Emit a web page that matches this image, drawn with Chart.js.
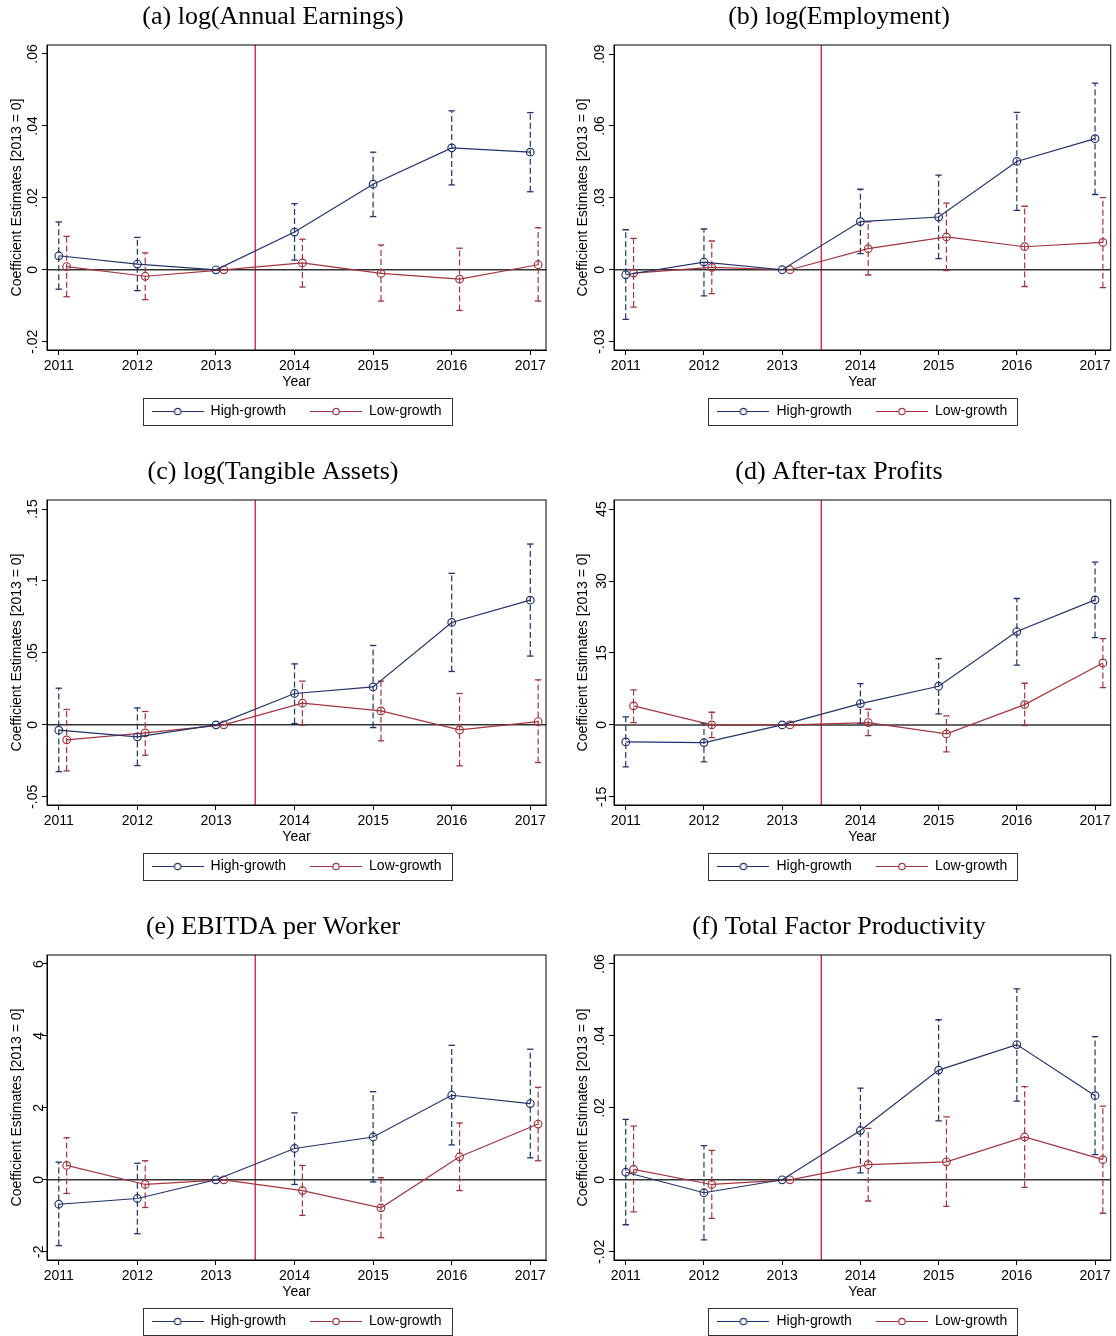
<!DOCTYPE html>
<html lang="en">
<head>
<meta charset="UTF-8">
<title>Event-study coefficients: high-growth vs. low-growth firms</title>
<script src="https://cdn.jsdelivr.net/npm/chart.js@4.4.1/dist/chart.umd.min.js"></script>
<style>
    html, body { margin: 0; padding: 0; background: #fff; overflow: hidden; }
    .panel { position: absolute; width: 558px; height: 455px; }
    canvas { display: block; }
</style>
</head>
<body>
<div class="panel" style="left:0;top:0"><canvas id="c0" width="558" height="455"></canvas></div>
<div class="panel" style="left:558px;top:0"><canvas id="c1" width="558" height="455"></canvas></div>
<div class="panel" style="left:0;top:455px"><canvas id="c2" width="558" height="455"></canvas></div>
<div class="panel" style="left:558px;top:455px"><canvas id="c3" width="558" height="455"></canvas></div>
<div class="panel" style="left:0;top:910px"><canvas id="c4" width="558" height="455"></canvas></div>
<div class="panel" style="left:558px;top:910px"><canvas id="c5" width="558" height="455"></canvas></div>

<script>
// years on the x axis
var years = [2011, 2012, 2013, 2014, 2015, 2016, 2017];

// (a) log(Annual Earnings)
var earnHigh   = [0.0039, 0.0016, 0, 0.0105, 0.0238, 0.0339, 0.0327];
var earnHighLo = [-0.0054, -0.0058, null, 0.0027, 0.0148, 0.0236, 0.0217];
var earnHighHi = [0.0133, 0.0090, null, 0.0184, 0.0327, 0.0442, 0.0437];
var earnLow    = [0.0009, -0.0018, 0, 0.0019, -0.0010, -0.0026, 0.0014];
var earnLowLo  = [-0.0075, -0.0083, null, -0.0048, -0.0087, -0.0113, -0.0087];
var earnLowHi  = [0.0093, 0.0047, null, 0.0085, 0.0069, 0.0060, 0.0117];
var earnTicks  = [-0.02, 0, 0.02, 0.04, 0.06];
var earnLabels = ['-.02', '0', '.02', '.04', '.06'];

// (b) log(Employment)
var empHigh   = [-0.0021, 0.0032, 0, 0.0201, 0.0220, 0.0452, 0.0547];
var empHighLo = [-0.0207, -0.0109, null, 0.0067, 0.0046, 0.0248, 0.0314];
var empHighHi = [0.0167, 0.0170, null, 0.0336, 0.0395, 0.0657, 0.0779];
var empLow    = [-0.0014, 0.0010, 0, 0.0088, 0.0137, 0.0096, 0.0114];
var empLowLo  = [-0.0156, -0.0100, null, -0.0022, -0.0004, -0.0070, -0.0075];
var empLowHi  = [0.0131, 0.0120, null, 0.0200, 0.0278, 0.0265, 0.0301];
var empTicks  = [-0.03, 0, 0.03, 0.06, 0.09];
var empLabels = ['-.03', '0', '.03', '.06', '.09'];

// (c) log(Tangible Assets)
var tangHigh   = [-0.0037, -0.0083, 0, 0.0218, 0.0264, 0.0712, 0.0867];
var tangHighLo = [-0.0325, -0.0283, null, 0.0009, -0.0019, 0.0371, 0.0478];
var tangHighHi = [0.0255, 0.0118, null, 0.0424, 0.0552, 0.1053, 0.1257];
var tangLow    = [-0.0104, -0.0056, 0, 0.0151, 0.0097, -0.0035, 0.0023];
var tangLowLo  = [-0.0320, -0.0211, null, -0.0002, -0.0111, -0.0285, -0.0262];
var tangLowHi  = [0.0107, 0.0093, null, 0.0304, 0.0304, 0.0218, 0.0313];
var tangTicks  = [-0.05, 0, 0.05, 0.1, 0.15];
var tangLabels = ['-.05', '0', '.05', '.1', '.15'];

// (d) After-tax Profits
var profHigh   = [-3.55, -3.69, 0, 4.45, 8.07, 19.47, 26.08];
var profHighLo = [-8.76, -7.72, null, 0.28, 2.29, 12.45, 18.22];
var profHighHi = [1.67, 0.3, null, 8.62, 13.84, 26.36, 33.94];
var profLow    = [3.96, 0.0, 0, 0.49, -1.88, 4.24, 12.93];
var profLowLo  = [0.49, -2.64, null, -2.23, -5.63, -0.14, 7.79];
var profLowHi  = [7.30, 2.64, null, 3.27, 1.88, 8.69, 18.01];
var profTicks  = [-15, 0, 15, 30, 45];
var profLabels = ['-15', '0', '15', '30', '45'];

// (e) EBITDA per Worker
var ebitHigh   = [-0.68, -0.52, 0, 0.87, 1.19, 2.35, 2.12];
var ebitHighLo = [-1.83, -1.50, null, -0.13, -0.06, 0.97, 0.61];
var ebitHighHi = [0.49, 0.46, null, 1.86, 2.45, 3.74, 3.63];
var ebitLow    = [0.40, -0.13, 0, -0.30, -0.78, 0.64, 1.55];
var ebitLowLo  = [-0.38, -0.77, null, -0.99, -1.61, -0.30, 0.53];
var ebitLowHi  = [1.17, 0.53, null, 0.40, 0.06, 1.58, 2.57];
var ebitTicks  = [-2, 0, 2, 4, 6];
var ebitLabels = ['-2', '0', '2', '4', '6'];

// (f) Total Factor Productivity
var tfpHigh   = [0.0021, -0.0036, 0, 0.0137, 0.0305, 0.0376, 0.0234];
var tfpHighLo = [-0.0125, -0.0167, null, 0.0019, 0.0164, 0.0219, 0.0070];
var tfpHighHi = [0.0168, 0.0095, null, 0.0255, 0.0445, 0.0531, 0.0398];
var tfpLow    = [0.0029, -0.0013, 0, 0.0042, 0.0050, 0.0119, 0.0056];
var tfpLowLo  = [-0.0089, -0.0107, null, -0.0059, -0.0074, -0.0021, -0.0093];
var tfpLowHi  = [0.0149, 0.0082, null, 0.0143, 0.0175, 0.0259, 0.0205];
var tfpTicks  = [-0.02, 0, 0.02, 0.04, 0.06];
var tfpLabels = ['-.02', '0', '.02', '.04', '.06'];

var seriesNames = ['High-growth', 'Low-growth'];
var treatYear = 2013.5;   // red reference line
var lowShift = 0.1;       // low-growth markers sit a little right of the year
var xMin = 2010.85, xMax = 2017.2;

var panels = [
    { title: '(a) log(Annual Earnings)', high: earnHigh, highLo: earnHighLo, highHi: earnHighHi,
      low: earnLow, lowLo: earnLowLo, lowHi: earnLowHi, ticks: earnTicks, labels: earnLabels, yMin: -0.0223, yMax: 0.0625 },
    { title: '(b) log(Employment)', high: empHigh, highLo: empHighLo, highHi: empHighHi,
      low: empLow, lowLo: empLowLo, lowHi: empLowHi, ticks: empTicks, labels: empLabels, yMin: -0.0335, yMax: 0.0938 },
    { title: '(c) log(Tangible Assets)', high: tangHigh, highLo: tangHighLo, highHi: tangHighHi,
      low: tangLow, lowLo: tangLowLo, lowHi: tangLowHi, ticks: tangTicks, labels: tangLabels, yMin: -0.0557, yMax: 0.1563 },
    { title: '(d) After-tax Profits', high: profHigh, highLo: profHighLo, highHi: profHighHi,
      low: profLow, lowLo: profLowLo, lowHi: profLowHi, ticks: profTicks, labels: profLabels, yMin: -16.7, yMax: 46.9 },
    { title: '(e) EBITDA per Worker', high: ebitHigh, highLo: ebitHighLo, highHi: ebitHighHi,
      low: ebitLow, lowLo: ebitLowLo, lowHi: ebitLowHi, ticks: ebitTicks, labels: ebitLabels, yMin: -2.23, yMax: 6.25 },
    { title: '(f) Total Factor Productivity', high: tfpHigh, highLo: tfpHighLo, highHi: tfpHighHi,
      low: tfpLow, lowLo: tfpLowLo, lowHi: tfpLowHi, ticks: tfpTicks, labels: tfpLabels, yMin: -0.0223, yMax: 0.0625 }
];

var blue = '#22336b';
var red = '#a33540';
var refRed = '#cc1b3f';
var sans = 'Liberation Sans, Arial, sans-serif';
var serif = 'Liberation Serif, Times New Roman, serif';

// small line-with-hollow-circle picture used as the legend key
function legendKey(color) {
    var c = document.createElement('canvas');
    c.width = 52; c.height = 10;
    var g = c.getContext('2d');
    g.strokeStyle = color;
    g.lineWidth = 1;
    g.beginPath(); g.moveTo(0, 5.5); g.lineTo(52, 5.5); g.stroke();
    g.beginPath(); g.arc(26, 5.5, 3.2, 0, 2 * Math.PI);
    g.fillStyle = '#fff'; g.fill();
    g.lineWidth = 1.2; g.stroke();
    return c;
}
var keys = [legendKey(blue), legendKey(red)];

// frame around the plot region and box around the legend
var framePlugin = {
    id: 'frame',
    afterDraw: function(chart) {
        var ctx = chart.ctx, a = chart.chartArea;
        ctx.save();
        ctx.strokeStyle = '#000';
        ctx.lineWidth = 1;
        ctx.strokeRect(a.left, a.top, a.right - a.left, a.bottom - a.top);
        var hb = chart.legend.legendHitBoxes;
        if (hb && hb.length) {
            var first = hb[0], last = hb[hb.length - 1];
            var l = first.left - 9, r = last.left + last.width + 10;
            var t = first.top - 6.5, b = first.top + first.height + 6.5;
            ctx.strokeStyle = '#333';
            ctx.strokeRect(Math.round(l) + 0.5, Math.round(t) + 0.5, Math.round(r - l), Math.round(b - t));
        }
        ctx.restore();
    }
};

function errorBars(x, lo, hi, color, shift) {
    var sets = [];
    for (var i = 0; i < x.length; i++) {
        if (lo[i] === null) continue;
        sets.push({
            type: 'line',
            data: [{ x: x[i] + shift, y: lo[i] }, { x: x[i] + shift, y: hi[i] }],
            borderColor: color,
            borderWidth: 1.2,
            borderDash: [6, 3],
            pointStyle: 'line',
            pointRadius: 3.2,
            pointBorderColor: color,
            pointBorderWidth: 1.3,
            order: 1
        });
    }
    return sets;
}

function makeChart(idx) {
    var p = panels[idx];
    var rightCol = idx % 2 === 1;

    var datasets = [
        {
            label: seriesNames[0],
            data: years.map(function(y, i) { return { x: y, y: p.high[i] }; }),
            borderColor: blue, borderWidth: 1.2,
            pointStyle: 'circle', pointRadius: 3.8, pointBorderWidth: 1.2,
            pointBorderColor: blue, pointBackgroundColor: 'rgba(0,0,0,0)',
            tension: 0, order: 0
        },
        {
            label: seriesNames[1],
            data: years.map(function(y, i) { return { x: y + lowShift, y: p.low[i] }; }),
            borderColor: red, borderWidth: 1.2,
            pointStyle: 'circle', pointRadius: 3.8, pointBorderWidth: 1.2,
            pointBorderColor: red, pointBackgroundColor: 'rgba(0,0,0,0)',
            tension: 0, order: 0
        }
    ];
    datasets = datasets.concat(errorBars(years, p.highLo, p.highHi, blue, 0));
    datasets = datasets.concat(errorBars(years, p.lowLo, p.lowHi, red, lowShift));
    // zero line and treatment line
    datasets.push({
        data: [{ x: xMin, y: 0 }, { x: xMax, y: 0 }],
        borderColor: '#333', borderWidth: 1.5, pointRadius: 0, order: 2
    });
    datasets.push({
        data: [{ x: treatYear, y: p.yMin }, { x: treatYear, y: p.yMax }],
        borderColor: refRed, borderWidth: 1.3, pointRadius: 0, order: 2
    });

    return new Chart(document.getElementById('c' + idx), {
        type: 'line',
        data: { datasets: datasets },
        plugins: [framePlugin],
        options: {
            responsive: false,
            animation: false,
            layout: { padding: { left: rightCol ? 8 : 0, right: rightCol ? 4 : 12, top: 0, bottom: 27 } },
            plugins: {
                tooltip: { enabled: false },
                title: {
                    display: true, text: p.title, color: '#000',
                    font: { family: serif, size: 26, weight: 'normal', lineHeight: 1.15 },
                    padding: { top: 2, bottom: 13.1 }
                },
                legend: {
                    position: 'bottom',
                    fullSize: false,
                    labels: {
                        usePointStyle: true,
                        pointStyleWidth: 52,
                        padding: 24,
                        color: '#000',
                        font: { family: sans, size: 14 },
                        generateLabels: function() {
                            return seriesNames.map(function(n, i) {
                                return { text: n, pointStyle: keys[i], datasetIndex: i, hidden: false,
                                         fillStyle: 'rgba(0,0,0,0)', strokeStyle: 'rgba(0,0,0,0)', lineWidth: 0, fontColor: '#000' };
                            });
                        }
                    }
                }
            },
            scales: {
                x: {
                    type: 'linear', min: xMin, max: xMax,
                    afterBuildTicks: function(s) { s.ticks = years.map(function(v) { return { value: v }; }); },
                    afterFit: function(s) { s.height = 30; },
                    ticks: {
                        autoSkip: false, maxRotation: 0, padding: 3, color: '#000',
                        font: { family: sans, size: 14 },
                        callback: function(v) { return String(v); }
                    },
                    grid: { drawOnChartArea: false, drawTicks: true, tickLength: 5, color: '#000', lineWidth: 1 },
                    border: { display: true, color: '#000', width: 1 },
                    title: { display: true, text: 'Year', color: '#000', font: { family: sans, size: 14 }, padding: { top: 0, bottom: -10.4 } }
                },
                y: {
                    type: 'linear', min: p.yMin, max: p.yMax,
                    afterBuildTicks: function(s) { s.ticks = p.ticks.map(function(v) { return { value: v }; }); },
                    afterFit: function(s) { s.width = rightCol ? 48 : 47; },
                    ticks: {
                        minRotation: 90, maxRotation: 90, crossAlign: 'center', padding: -3,
                        color: '#000', font: { family: sans, size: 14 },
                        callback: function(v, i) { return p.labels[i]; }
                    },
                    grid: { drawOnChartArea: false, drawTicks: true, tickLength: 5, color: '#000', lineWidth: 1 },
                    border: { display: true, color: '#000', width: 1 },
                    title: { display: true, text: 'Coefficient Estimates [2013 = 0]', color: '#000',
                             font: { family: sans, size: 14 }, padding: { top: 9, bottom: 0 } }
                }
            }
        }
    });
}

for (var k = 0; k < panels.length; k++) {
    makeChart(k);
}
</script>
</body>
</html>
